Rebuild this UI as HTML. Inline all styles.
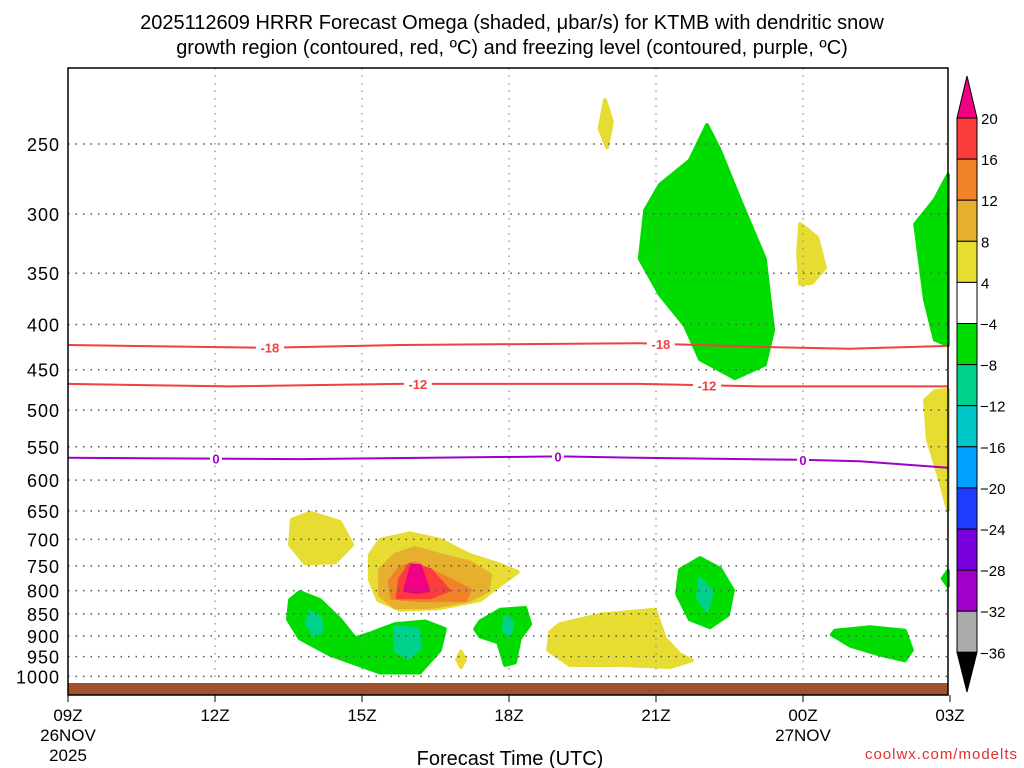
<!DOCTYPE html>
<html><head><meta charset="utf-8">
<style>
body{margin:0;background:#fff;}
svg{display:block;font-family:"Liberation Sans","DejaVu Sans",sans-serif;}
</style></head>
<body>
<svg id="chart" width="1024" height="768" viewBox="0 0 1024 768" xmlns="http://www.w3.org/2000/svg">
<text x="512" y="29" font-size="20" text-anchor="middle" fill="#000">2025112609 HRRR Forecast Omega (shaded, μbar/s) for KTMB with dendritic snow</text>
<text x="512" y="54" font-size="20" text-anchor="middle" fill="#000">growth region (contoured, red, ºC) and freezing level (contoured, purple, ºC)</text>
<g id="fills"></g>
<g id="grid"></g>
<g id="contours"></g>
<rect x="68" y="683" width="880" height="12" fill="#a0522d"/>
<rect x="68" y="68" width="880" height="627" fill="none" stroke="#000" stroke-width="1.5"/>
<g id="axes"></g>
<text x="510" y="765" font-size="20" text-anchor="middle">Forecast Time (UTC)</text>
<text x="1018" y="759" font-size="15" text-anchor="end" fill="#e03030" letter-spacing="1">coolwx.com/modelts</text>
<g id="cbar"></g>
</svg>
<script>
const pressureTicks=[250,300,350,400,450,500,550,600,650,700,750,800,850,900,950,1000];
const hourTicks=[0,3,6,9,12,15,18];
const hourLabels=["09Z","12Z","15Z","18Z","21Z","00Z","03Z"];
const cbarLevels=[20,16,12,8,4,-4,-8,-12,-16,-20,-24,-28,-32,-36];
const cbarColors=["#fa3c3c","#f08228","#e6af2d","#e6dc32","#ffffff","#00dc00","#00d28c","#00c8c8","#00a0ff","#1e3cff","#7800dc","#a000c8","#aaaaaa"];
// omega blobs: [colorIndex, [[hour,pressure],...]]
const blobYellowTop=[[10.96,223],[11.1,236],[11.0,252],[10.85,240]];
const blobGreenUpper=[[13.04,238],[12.69,261],[12.08,278],[11.78,297],[11.67,337],[12.08,370],[12.59,401],[12.9,438],[13.61,460],[14.22,444],[14.39,406],[14.22,337],[13.71,289],[13.3,254]];
const blobYellow00Z=[[14.94,308],[15.29,319],[15.45,345],[15.18,359],[14.94,360],[14.9,333]];
const blobGreenRight=[[17.96,271],[17.96,422],[17.69,416],[17.49,375],[17.29,308],[17.69,289]];
const blobYellowRight=[[17.96,474],[17.96,648],[17.8,600],[17.55,540],[17.49,487],[17.69,476]];
const blobYellow14Z=[[4.94,653],[5.55,669],[5.8,710],[5.45,743],[4.84,745],[4.53,710],[4.57,665]];
const blobYellow16Z=[[6.37,701],[6.98,689],[7.59,701],[8.2,729],[8.82,748],[9.18,762],[8.82,788],[8.41,820],[7.59,837],[6.78,841],[6.33,820],[6.16,778],[6.16,729]];
const blobGold16Z=[[6.37,758],[6.67,729],[7.08,716],[7.59,729],[8.2,743],[8.61,768],[8.57,799],[8.2,820],[7.39,835],[6.67,835],[6.37,810]];
const blobOrange16Z=[[6.57,780],[6.78,754],[7.08,745],[7.59,768],[8.2,799],[8.1,820],[7.18,820],[6.61,815]];
const blobRed16Z=[[6.78,776],[6.98,748],[7.39,758],[7.76,799],[7.39,814],[6.73,814]];
const blobMagenta16Z=[[7.02,750],[7.18,750],[7.35,799],[7.14,803],[6.88,799]];
const blobGreenLow15Z=[[4.73,803],[5.14,820],[5.55,862],[5.86,906],[6.16,895],[6.67,873],[7.29,867],[7.69,884],[7.59,934],[7.18,990],[6.37,990],[5.35,945],[4.73,906],[4.49,862],[4.53,820]];
const blobTeal14Z=[[4.94,846],[5.14,858],[5.18,888],[5.02,897],[4.88,873]];
const blobTeal16Z=[[6.67,880],[7.14,884],[7.18,930],[6.94,952],[6.69,934]];
const blobGreen18Z=[[8.41,867],[8.82,841],[9.33,837],[9.43,873],[9.22,906],[9.12,964],[8.92,971],[8.78,915],[8.41,901],[8.31,884]];
const blobTeal18Z=[[8.92,858],[9.06,867],[9.02,897],[8.9,888]];
const blobYellowTiny=[[8.02,938],[8.1,957],[8.02,976],[7.94,957]];
const blobYellow20Z=[[10.04,873],[10.86,852],[11.98,841],[12.18,906],[12.49,945],[12.73,959],[12.29,976],[11.27,971],[10.24,971],[9.8,934],[9.84,891]];
const blobGreen22Z=[[12.49,758],[12.9,735],[13.31,756],[13.57,799],[13.47,852],[13.1,880],[12.69,862],[12.43,807]];
const blobTeal22Z=[[12.9,776],[13.14,803],[13.04,841],[12.86,815]];
const blobGreen01Z=[[15.65,888],[16.37,880],[17.08,888],[17.22,934],[17.08,959],[16.57,945],[15.96,923],[15.59,897]];
const blobGreenEdge=[[17.96,760],[17.96,790],[17.85,775]];
const contourM18Hours=[0,4.08,6.78,11.67,14.12,15.96,17.96];
const contourM18Press=[422,425,422,420,424,426,423];
const contourM12Hours=[0,3.29,6.78,11.67,14.12,17.96];
const contourM12Press=[467,470,467,467,470,470];
const contour0Hours=[0,4.73,10.04,11.67,14.94,16.16,17.96];
const contour0Press=[566,568,564,566,569,571,581];

const X0=68,PX=49;
function xS(h){return X0+h*PX;}
function yS(p){return 144+384*Math.log(p/250);}
const NS="http://www.w3.org/2000/svg";
function mk(tag,parent){const e=document.createElementNS(NS,tag);parent.appendChild(e);return e;}

const fills=document.getElementById('fills');
const blobs=[
 [3,blobYellowTop,'blob-yellow-top'],[5,blobGreenUpper,'blob-green-upper'],[3,blobYellow00Z,'blob-yellow-00z'],
 [5,blobGreenRight,'blob-green-right'],[3,blobYellowRight,'blob-yellow-right'],[3,blobYellow14Z,'blob-yellow-14z'],
 [3,blobYellow16Z,'blob-yellow-16z'],[2,blobGold16Z,'blob-gold-16z'],[1,blobOrange16Z,'blob-orange-16z'],
 [0,blobRed16Z,'blob-red-16z'],[-1,blobMagenta16Z,'blob-magenta-16z'],[5,blobGreenLow15Z,'blob-green-15z'],
 [6,blobTeal14Z,'blob-teal-14z'],[6,blobTeal16Z,'blob-teal-16z'],[5,blobGreen18Z,'blob-green-18z'],
 [6,blobTeal18Z,'blob-teal-18z'],[3,blobYellowTiny,'blob-yellow-tiny'],[3,blobYellow20Z,'blob-yellow-20z'],
 [5,blobGreen22Z,'blob-green-22z'],[6,blobTeal22Z,'blob-teal-22z'],[5,blobGreen01Z,'blob-green-01z'],[5,blobGreenEdge,'blob-green-edge']];
blobs.forEach(b=>{
 const pg=mk('polygon',fills);
 
 
 pg.setAttribute('points',b[1].map(q=>xS(q[0]).toFixed(1)+','+yS(q[1]).toFixed(1)).join(' '));
 pg.setAttribute('fill',b[0]<0?'#f00082':cbarColors[b[0]]);
 pg.setAttribute('stroke',b[0]<0?'#f00082':cbarColors[b[0]]);
 pg.setAttribute('stroke-linejoin','round');
 pg.setAttribute('stroke-width','4');
});

const grid=document.getElementById('grid');
pressureTicks.forEach(p=>{
 const l=mk('line',grid);
 
 
 l.setAttribute('x1',X0);l.setAttribute('x2',948);l.setAttribute('y1',yS(p));l.setAttribute('y2',yS(p));
 l.setAttribute('stroke','#555');l.setAttribute('stroke-width','1.5');l.setAttribute('stroke-dasharray','1.5 6');
});
hourTicks.slice(1,-1).forEach(h=>{
 const l=mk('line',grid);
 
 
 l.setAttribute('x1',xS(h));l.setAttribute('x2',xS(h));l.setAttribute('y1',68);l.setAttribute('y2',695);
 l.setAttribute('stroke','#888');l.setAttribute('stroke-width','1.2');l.setAttribute('stroke-dasharray','1.5 6');
});

const cont=document.getElementById('contours');
function drawContour(hs,ps,color,name,label,labelHours){
 const pl=mk('polyline',cont);
 
 
 pl.setAttribute('points',hs.map((h,i)=>xS(h).toFixed(1)+','+yS(ps[i]).toFixed(1)).join(' '));
 pl.setAttribute('fill','none');pl.setAttribute('stroke',color);pl.setAttribute('stroke-width','2');
 labelHours.forEach(lh=>{
  let i=0;while(i<hs.length-2&&hs[i+1]<lh)i++;
  const t=(lh-hs[i])/(hs[i+1]-hs[i]);const p=ps[i]+t*(ps[i+1]-ps[i]);
  const r=mk('rect',cont);
  
  
  const w=label.length*8+4;
  r.setAttribute('x',xS(lh)-w/2);r.setAttribute('y',yS(p)-7);r.setAttribute('width',w);r.setAttribute('height',14);r.setAttribute('fill','#fff');
  const tx=mk('text',cont);
  
  
  tx.setAttribute('x',xS(lh));tx.setAttribute('y',yS(p)+5);tx.setAttribute('text-anchor','middle');
  tx.setAttribute('font-size','13');tx.setAttribute('font-weight','bold');tx.setAttribute('fill',color);
  tx.textContent=label;
 });
}
drawContour(contourM18Hours,contourM18Press,'#f04040','contour-minus-18','-18',[4.12,12.1]);
drawContour(contourM12Hours,contourM12Press,'#f04040','contour-minus-12','-12',[7.14,13.04]);
drawContour(contour0Hours,contour0Press,'#a000c8','contour-0c','0',[3.02,10.0,15.0]);

const ax=document.getElementById('axes');
pressureTicks.forEach(p=>{
 const t=mk('text',ax);
 
 
 t.setAttribute('x',60);t.setAttribute('y',yS(p)+7);t.setAttribute('text-anchor','end');t.setAttribute('font-size','18');t.setAttribute('letter-spacing','1');
 t.textContent=p;
});
hourTicks.forEach((h,i)=>{
 const l=mk('line',ax);
 
 
 l.setAttribute('x1',xS(h));l.setAttribute('x2',xS(h));l.setAttribute('y1',695);l.setAttribute('y2',702);l.setAttribute('stroke','#000');
 const t=mk('text',ax);
 
 
 t.setAttribute('x',xS(h));t.setAttribute('y',721);t.setAttribute('text-anchor','middle');t.setAttribute('font-size','17');
 t.textContent=hourLabels[i];
});
[["26NOV",xS(0),741],["2025",xS(0),761],["27NOV",xS(15),741]].forEach(d=>{
 const t=mk('text',ax);
 
 
 t.setAttribute('x',d[1]);t.setAttribute('y',d[2]);t.setAttribute('text-anchor','middle');t.setAttribute('font-size','17');
 t.textContent=d[0];
});

const cb=document.getElementById('cbar');
const cbX=957,cbW=20,cbTop=118,cbH=41.1;
const tri1=mk('polygon',cb);


tri1.setAttribute('points',`${cbX},${cbTop} ${cbX+cbW/2},76 ${cbX+cbW},${cbTop}`);tri1.setAttribute('fill','#f00082');tri1.setAttribute('stroke','#000');
cbarColors.forEach((c,i)=>{
 const r=mk('rect',cb);
 
 
 r.setAttribute('x',cbX);r.setAttribute('y',cbTop+i*cbH);r.setAttribute('width',cbW);r.setAttribute('height',cbH);r.setAttribute('fill',c);r.setAttribute('stroke','#000');
});
const bot=cbTop+cbarColors.length*cbH;
const tri2=mk('polygon',cb);


tri2.setAttribute('points',`${cbX},${bot} ${cbX+cbW/2},692 ${cbX+cbW},${bot}`);tri2.setAttribute('fill','#000');tri2.setAttribute('stroke','#000');
cbarLevels.forEach((v,i)=>{
 const t=mk('text',cb);
 
 
 t.setAttribute('x',v<0?980:981);t.setAttribute('y',cbTop+i*cbH+6);t.setAttribute('font-size','15');
 t.textContent=v<0?'\u2212'+(-v):String(v);
});
</script>
</body></html>
